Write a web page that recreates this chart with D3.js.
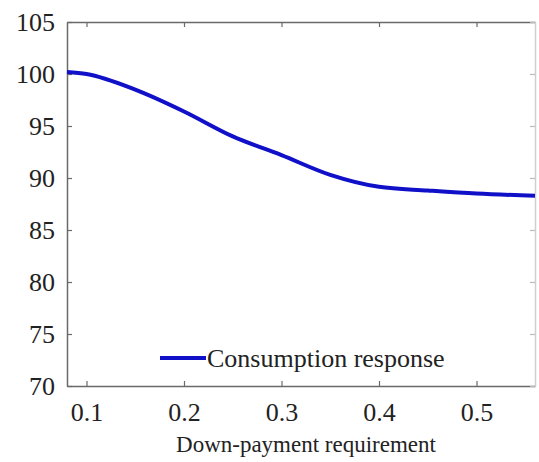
<!DOCTYPE html>
<html><head><meta charset="utf-8">
<script src="https://cdn.jsdelivr.net/npm/d3@7"></script>
<style>body{margin:0;background:#fff}svg{display:block}
svg text{font-family:'Liberation Serif','Times New Roman',serif}</style>
</head><body>
<script>
const xValues = [0.08, 0.10, 0.15, 0.20, 0.25, 0.30, 0.35, 0.40, 0.45, 0.50, 0.56];
const consumption = [100.2, 100.0, 98.5, 96.4, 94.0, 92.2, 90.3, 89.15, 88.8, 88.5, 88.3];
const xTicks = [0.1, 0.2, 0.3, 0.4, 0.5];
const yTicks = [70, 75, 80, 85, 90, 95, 100, 105];
const seriesName = "Consumption response";
const xLabel = "Down-payment requirement";

const W = 539, H = 462;
const m = {left: 67, right: 4, top: 22, bottom: 76};
const svg = d3.select("body").append("svg").attr("width", W).attr("height", H);
const x = d3.scaleLinear().domain([0.08, 0.56]).range([m.left, W - m.right]);
const y = d3.scaleLinear().domain([70, 105]).range([H - m.bottom, m.top]);
const font = "Liberation Serif";
const axisCol = "#6a6a6a";
const textCol = "#222";

function styleAxis(g){
  g.attr("font-family", font).attr("font-size", 26);
  g.select(".domain").attr("stroke", axisCol).attr("stroke-width", 1.5);
  g.selectAll(".tick line").attr("stroke", axisCol).attr("stroke-width", 1.2);
  g.selectAll(".tick text").attr("fill", textCol)
    .attr("font-family", font).attr("font-size", 26)
    .style("font-family", font).style("font-size", "26px");
}
svg.append("g").attr("transform", `translate(0,${y(70)})`)
  .call(d3.axisBottom(x).tickValues(xTicks).tickFormat(d3.format(".1f")).tickSizeInner(-5).tickSizeOuter(0).tickPadding(17))
  .call(styleAxis);
svg.append("g").attr("transform", `translate(0,${y(105)})`)
  .call(d3.axisTop(x).tickValues(xTicks).tickFormat("").tickSizeInner(-5).tickSizeOuter(0))
  .call(styleAxis);
svg.append("g").attr("transform", `translate(${x(0.08)},0)`)
  .call(d3.axisLeft(y).tickValues(yTicks).tickFormat(d3.format("d")).tickSizeInner(-5).tickSizeOuter(0).tickPadding(12))
  .call(styleAxis);
svg.append("g").attr("transform", `translate(${x(0.56)},0)`)
  .call(d3.axisRight(y).tickValues(yTicks).tickFormat("").tickSizeInner(-5).tickSizeOuter(0))
  .call(g => { styleAxis(g); g.select(".domain").attr("stroke", "#d0d0d0"); g.selectAll(".tick line").attr("stroke", "#bbb"); });

const data = xValues.map((v, i) => ({x: v, y: consumption[i]}));
svg.append("path").datum(data)
  .attr("fill", "none").attr("stroke", "#1010c8").attr("stroke-width", 4)
  .attr("stroke-linejoin", "round")
  .attr("d", d3.line().x(d => x(d.x)).y(d => y(d.y)).curve(d3.curveMonotoneX));

// legend
const lg = svg.append("g");
lg.append("line").attr("x1", 160).attr("x2", 206).attr("y1", 358).attr("y2", 358)
  .attr("stroke", "#1010c8").attr("stroke-width", 4);
lg.append("text").attr("x", 207).attr("y", 367).text(seriesName)
  .style("font-family", font).style("font-size", "26px").attr("fill", textCol);

svg.append("text").attr("x", (174 + 438) / 2).attr("y", 452).attr("text-anchor", "middle")
  .text(xLabel).style("font-family", font).style("font-size", "23px").attr("fill", textCol);
</script>
</body></html>
